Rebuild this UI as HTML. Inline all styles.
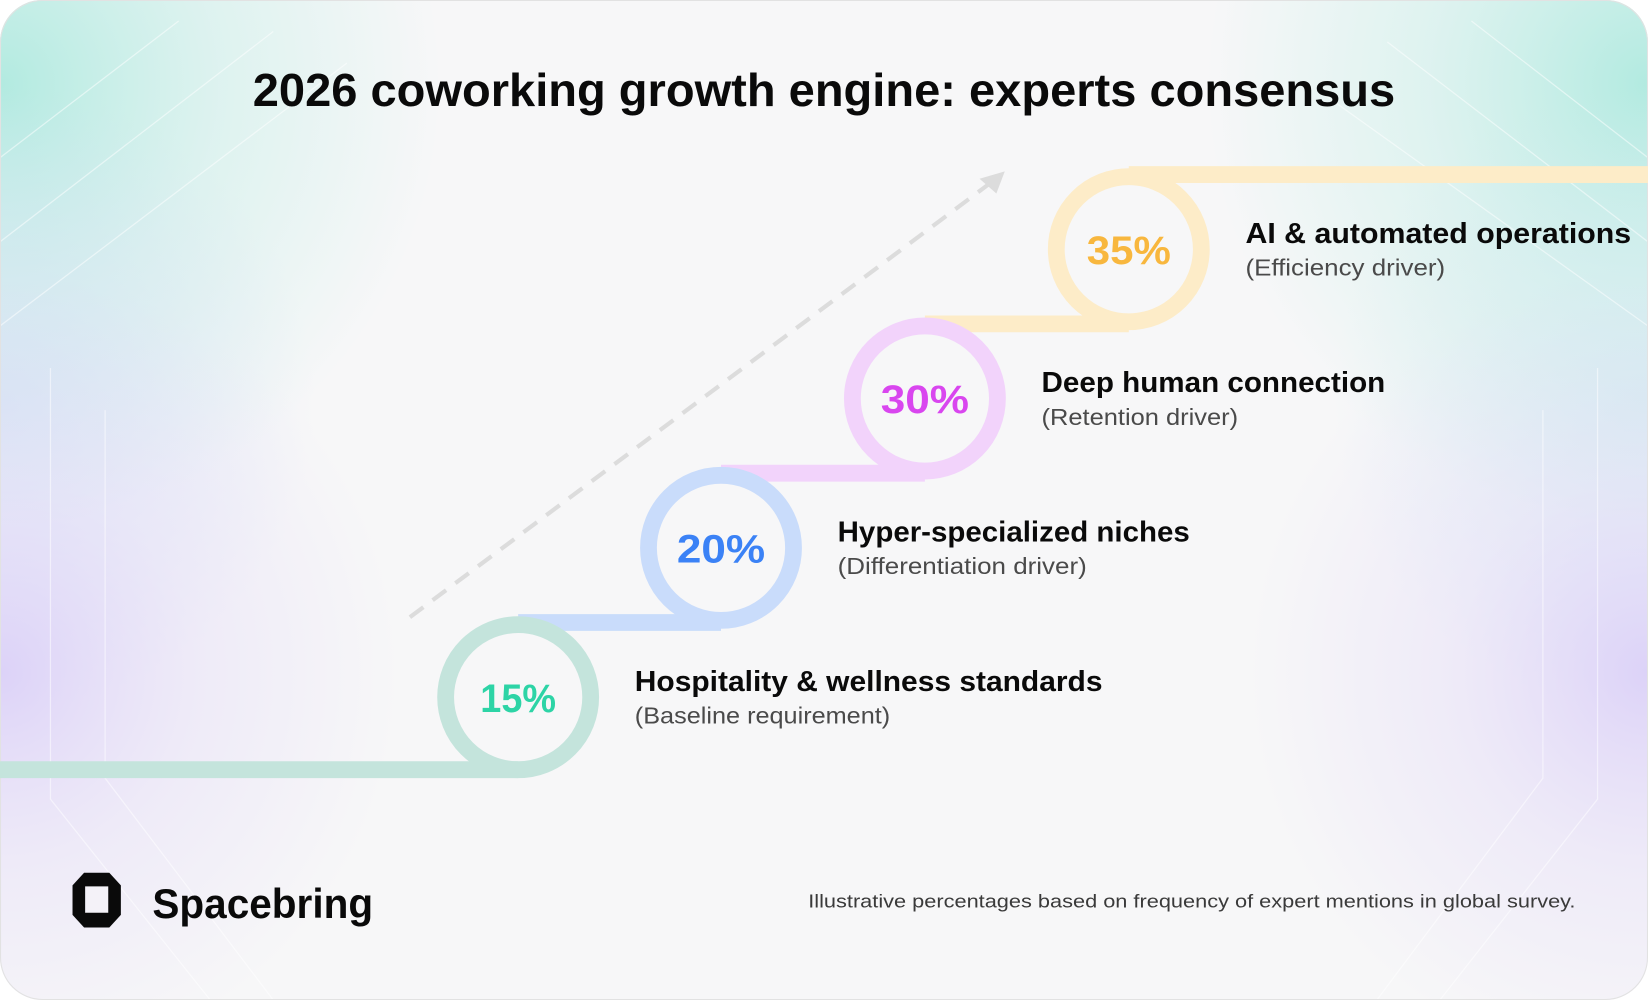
<!DOCTYPE html>
<html><head><meta charset="utf-8"><style>
html,body{margin:0;padding:0;width:1648px;height:1000px;overflow:hidden;background:#fff}
svg{display:block}
text{font-family:"Liberation Sans",sans-serif}
</style></head><body>
<svg width="1648" height="1000" viewBox="0 0 1568 951" preserveAspectRatio="none">
<defs>
<radialGradient id="tl" gradientUnits="userSpaceOnUse" cx="0" cy="80" r="420"><stop offset="0" stop-color="#a6e8dc" stop-opacity="0.85"/><stop offset="0.5" stop-color="#b8ece3" stop-opacity="0.4"/><stop offset="1" stop-color="#b8ece3" stop-opacity="0"/></radialGradient>
<radialGradient id="tr" gradientUnits="userSpaceOnUse" cx="1568" cy="80" r="420"><stop offset="0" stop-color="#a6e8dc" stop-opacity="0.85"/><stop offset="0.5" stop-color="#b8ece3" stop-opacity="0.4"/><stop offset="1" stop-color="#b8ece3" stop-opacity="0"/></radialGradient>
<radialGradient id="bl" gradientUnits="userSpaceOnUse" cx="0" cy="640" r="380"><stop offset="0" stop-color="#d8ccf8" stop-opacity="0.85"/><stop offset="0.5" stop-color="#e2d9f9" stop-opacity="0.4"/><stop offset="1" stop-color="#e2d9f9" stop-opacity="0"/></radialGradient>
<radialGradient id="br" gradientUnits="userSpaceOnUse" cx="1568" cy="640" r="380"><stop offset="0" stop-color="#d8ccf8" stop-opacity="0.85"/><stop offset="0.5" stop-color="#e2d9f9" stop-opacity="0.4"/><stop offset="1" stop-color="#e2d9f9" stop-opacity="0"/></radialGradient>
<radialGradient id="ml" gradientUnits="userSpaceOnUse" cx="0" cy="380" r="300"><stop offset="0" stop-color="#c6d8f3" stop-opacity="0.5"/><stop offset="1" stop-color="#c6d8f3" stop-opacity="0"/></radialGradient>
<radialGradient id="mr" gradientUnits="userSpaceOnUse" cx="1568" cy="380" r="300"><stop offset="0" stop-color="#c6e6ee" stop-opacity="0.5"/><stop offset="1" stop-color="#c6e6ee" stop-opacity="0"/></radialGradient>
<clipPath id="c"><rect x="0" y="0" width="1568" height="951" rx="40"/></clipPath>
</defs>
<g clip-path="url(#c)">
<rect width="1568" height="951" fill="#f7f7f8"/>
<rect width="1568" height="951" fill="url(#tl)"/>
<rect width="1568" height="951" fill="url(#tr)"/>
<rect width="1568" height="951" fill="url(#ml)"/>
<rect width="1568" height="951" fill="url(#mr)"/>
<rect width="1568" height="951" fill="url(#bl)"/>
<rect width="1568" height="951" fill="url(#br)"/>
<g stroke="#fff" stroke-opacity="0.5" fill="none" stroke-width="1.2">
<path d="M0 150 L170 20 M0 230 L260 30 M0 310 L330 60"/>
<path d="M1568 150 L1400 20 M1568 230 L1320 40 M1568 310 L1260 90"/>
<path d="M48 350 V760 L200 951 M100 390 V740 L260 951 M1520 350 V760 L1370 951 M1468 390 V740 L1310 951"/>
</g>
</g>
<rect x="0.5" y="0.5" width="1567" height="950" rx="40" fill="none" stroke="#e2e2e2"/>

<text x="784" y="101" text-anchor="middle" font-size="44" font-weight="bold" fill="#0a0a0a" textLength="1087" lengthAdjust="spacingAndGlyphs">2026 coworking growth engine: experts consensus</text>

<line x1="390" y1="587" x2="945" y2="172" stroke="#dcdcdc" stroke-width="4" stroke-dasharray="16 11"/>
<polygon points="956,163 932,170 948,184" fill="#dcdcdc"/>

<g fill="none" stroke-width="16">
<line x1="0" y1="732" x2="493" y2="732" stroke="#c4e4dc"/>
<line x1="493" y1="592" x2="686" y2="592" stroke="#c9dcfb"/>
<line x1="686" y1="450" x2="880" y2="450" stroke="#f2d3fb"/>
<line x1="880" y1="308" x2="1074" y2="308" stroke="#fdecc8"/>
<line x1="1074" y1="166" x2="1568" y2="166" stroke="#fdecc8"/>
<circle cx="493" cy="663" r="69" stroke="#c4e4dc"/>
<circle cx="686" cy="521" r="69" stroke="#c9dcfb"/>
<circle cx="880" cy="379" r="69" stroke="#f2d3fb"/>
<circle cx="1074" cy="237" r="69" stroke="#fdecc8"/>
</g>
<g font-size="38" font-weight="bold" text-anchor="middle">
<text x="493" y="677" fill="#2dd4a6" textLength="72" lengthAdjust="spacingAndGlyphs">15%</text>
<text x="686" y="535" fill="#3b82f6" textLength="84" lengthAdjust="spacingAndGlyphs">20%</text>
<text x="880" y="393" fill="#d946ef" textLength="84" lengthAdjust="spacingAndGlyphs">30%</text>
<text x="1074" y="251" fill="#f8b73e" textLength="80" lengthAdjust="spacingAndGlyphs">35%</text>
</g>
<g font-size="27" font-weight="bold" fill="#0a0a0a">
<text x="604" y="657" textLength="445" lengthAdjust="spacingAndGlyphs">Hospitality &amp; wellness standards</text>
<text x="797" y="515" textLength="335" lengthAdjust="spacingAndGlyphs">Hyper-specialized niches</text>
<text x="991" y="373" textLength="327" lengthAdjust="spacingAndGlyphs">Deep human connection</text>
<text x="1185" y="231" textLength="367" lengthAdjust="spacingAndGlyphs">AI &amp; automated operations</text>
</g>
<g font-size="22" fill="#4a4a4a">
<text x="604" y="688" textLength="243" lengthAdjust="spacingAndGlyphs">(Baseline requirement)</text>
<text x="797" y="546" textLength="237" lengthAdjust="spacingAndGlyphs">(Differentiation driver)</text>
<text x="991" y="404" textLength="187" lengthAdjust="spacingAndGlyphs">(Retention driver)</text>
<text x="1185" y="262" textLength="190" lengthAdjust="spacingAndGlyphs">(Efficiency driver)</text>
</g>

<g fill="#0a0a0a">
<path d="M80 830 L104 830 L115 842 L115 870 L104 882 L80 882 L69 870 L69 842 Z"/>
<path d="M81 843 L103 843 L103 868 L81 868 Z" fill="#f4f2f8"/>
</g>
<text x="145" y="873" font-size="40" font-weight="bold" fill="#0a0a0a" textLength="210" lengthAdjust="spacingAndGlyphs">Spacebring</text>
<text x="1499" y="863" text-anchor="end" font-size="18" fill="#3a3a3a" textLength="730" lengthAdjust="spacingAndGlyphs">Illustrative percentages based on frequency of expert mentions in global survey.</text>
</svg>
</body></html>
